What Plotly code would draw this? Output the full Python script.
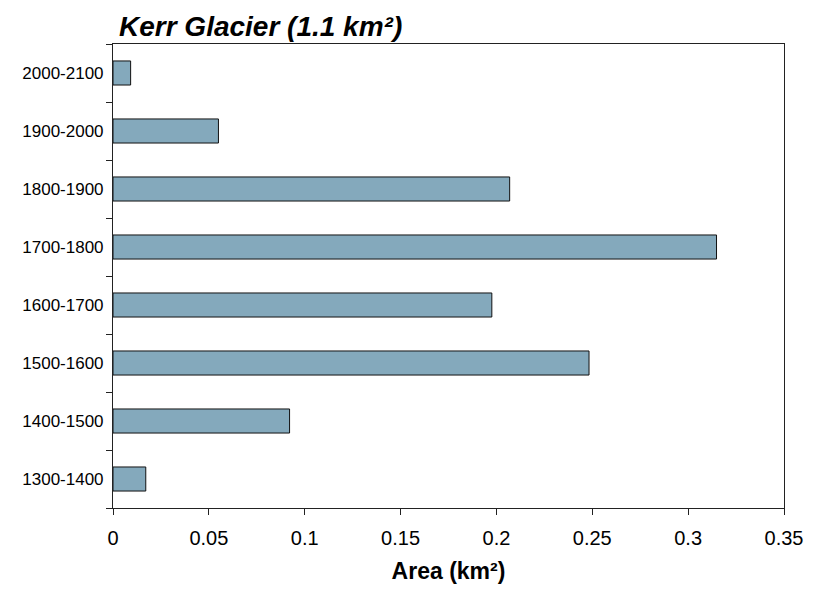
import plotly.graph_objects as go

categories = ["1300-1400", "1400-1500", "1500-1600", "1600-1700",
              "1700-1800", "1800-1900", "1900-2000", "2000-2100"]
area_km2 = [0.0171, 0.0921, 0.2483, 0.1976, 0.3148, 0.2069, 0.055, 0.0092]
x_ticks = [0, 0.05, 0.1, 0.15, 0.2, 0.25, 0.3, 0.35]
x_tick_labels = ["0", "0.05", "0.1", "0.15", "0.2", "0.25", "0.3", "0.35"]

fig = go.Figure(go.Bar(
    x=area_km2, y=categories, orientation="h",
    marker=dict(color="#84A9BC", line=dict(color="#111111", width=1)),
))

fig.update_layout(
    width=820, height=591,
    margin=dict(l=113, r=36, t=44, b=83),
    paper_bgcolor="white", plot_bgcolor="white",
    bargap=0.585,
    showlegend=False,
    title=dict(
        text="<b><i>Kerr Glacier (1.1 km²)</i></b>",
        font=dict(family="Liberation Sans, Arial, sans-serif", size=28, color="black"),
        x=119/820, xref="container", xanchor="left",
        y=1-26/591, yref="container", yanchor="middle",
    ),
    font=dict(family="Liberation Sans, Arial, sans-serif", color="black"),
)

fig.update_xaxes(
    range=[0, 0.35], tickvals=x_ticks, ticktext=x_tick_labels,
    showgrid=False, zeroline=False,
    showline=True, linecolor="#222222", linewidth=1, mirror=True,
    ticks="outside", ticklen=6, tickcolor="#222222", ticklabelstandoff=6,
    tickfont=dict(size=20, family="Liberation Sans, Arial, sans-serif", color="black"),
    title=dict(text="<b>Area (km²)</b>", standoff=14,
               font=dict(size=23, family="Liberation Sans, Arial, sans-serif", color="black")),
)

fig.update_yaxes(
    type="category", categoryorder="array", categoryarray=categories,
    showgrid=False, zeroline=False,
    showline=True, linecolor="#222222", linewidth=1, mirror=True,
    ticks="outside", ticklen=6, tickcolor="#222222", tickson="boundaries",
    ticklabelstandoff=5,
    tickfont=dict(size=17, family="Liberation Sans, Arial, sans-serif", color="black"),
)

fig.write_html("out.html")
